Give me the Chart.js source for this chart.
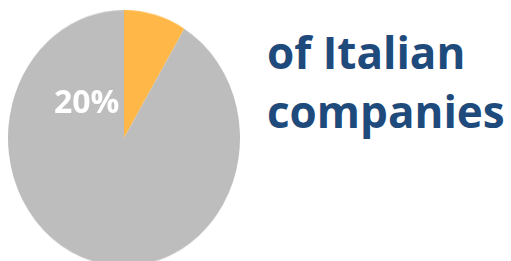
<!DOCTYPE html>
<html>
<head>
<meta charset="utf-8">
<script src="https://cdn.jsdelivr.net/npm/chart.js@4/dist/chart.umd.min.js"></script>
<style>
  html, body { margin: 0; padding: 0; background: #fff; overflow: hidden; }
  body { width: 511px; height: 261px; position: relative; font-family: "Open Sans", sans-serif; }
  #pie { position: absolute; left: 8px; top: 10px; }
  .pct { position: absolute; left: 54px; top: 85px; font-size: 32px; line-height: 32px; font-weight: bold; color: #fff; }
  .caption { position: absolute; left: 267px; top: 23px; font-size: 44px; line-height: 59px; font-weight: bold; color: #1f4a7c; }
</style>
</head>
<body>
<canvas id="pie" width="232" height="232" style="width:232px;height:256px"></canvas>
<div class="pct">20%</div>
<div class="caption">of Italian<br>companies</div>
<script>
(function () {
  // slice data
  var labels = ['Share', 'Rest'];
  var values = [8.7, 91.3];
  var colors = ['#ffb847', '#bdbdbd'];

  var pieChart = document.querySelector('#pie');

  if (pieChart) {
    new Chart(pieChart, {
      type: 'pie',
      data: {
        labels: labels,
        datasets: [{
          data: values,
          backgroundColor: colors,
          borderWidth: 0
        }]
      },
      options: {
        responsive: false,
        animation: false,
        layout: { padding: 0 },
        plugins: {
          legend: { display: false },
          tooltip: { enabled: false }
        }
      }
    });
  }
})();
</script>
</body>
</html>
